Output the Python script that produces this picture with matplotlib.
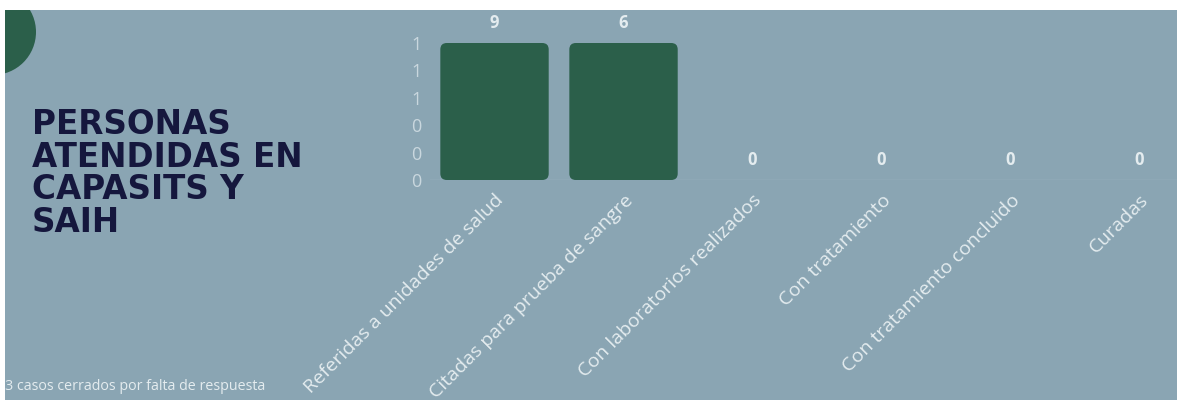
import numpy as np
import matplotlib
matplotlib.use("Agg")
from matplotlib import pyplot as plt
from matplotlib.patches import FancyBboxPatch, Rectangle, Circle

#%% Datos
categorias = ["Referidas a unidades de salud", "Citadas para prueba de sangre",
              "Con laboratorios realizados", "Con tratamiento",
              "Con tratamiento concluido", "Curadas"]
valores = [9, 6, 0, 0, 0, 0]
y_max = 1.0
y_ticks = [0, 0.2, 0.4, 0.6, 0.8, 1.0]
titulo = "PERSONAS\nATENDIDAS EN\nCAPASITS Y\nSAIH"
nota = "3 casos cerrados por falta de respuesta"

#%% Colores
fondo = "#8aa5b3"
verde = "#2b5f4a"
azul_oscuro = "#15173d"
claro = "#e4ecef"

plt.rcParams['font.family'] = ['Open Sans', 'DejaVu Sans']

fig = plt.figure(figsize=(11.77, 4.0), dpi=100, facecolor="white")

#%% Fondo (ejes en pixeles)
bg = fig.add_axes([0, 0, 1, 1], zorder=-1)
bg.set_xlim(0, 1177)
bg.set_ylim(400, 0)
bg.axis("off")
fondo_rect = Rectangle((5, 10), 1172, 390, facecolor=fondo, edgecolor="none")
bg.add_patch(fondo_rect)
circ = Circle((-7, 32), 43, facecolor=verde, edgecolor="none")
bg.add_patch(circ)
circ.set_clip_path(fondo_rect)

#%% Grafico
ax = fig.add_axes([430/1177, 220/400, 747/1177, 137/400])
ax.set_facecolor("none")
x = np.arange(len(categorias))
alturas = np.minimum(valores, y_max)
ancho = 0.84

for xi, h in zip(x, alturas):
    if h > 0:
        p = FancyBboxPatch((xi - ancho/2, 0), ancho, h,
                           boxstyle="round,pad=0,rounding_size=0.05",
                           mutation_aspect=0.94, facecolor=verde,
                           edgecolor="none", zorder=3)
        ax.add_patch(p)

for xi, h, v in zip(x, alturas, valores):
    ax.annotate(str(v), (xi, h), xytext=(0, 8), textcoords="offset points",
                ha="center", va="bottom", color=claro, fontsize=12,
                fontweight="bold")

ax.axhline(0, color="#a3b8c3", lw=1, zorder=2)
ax.set_xlim(-0.5, 5.29)
ax.set_ylim(0, y_max)
ax.set_yticks(y_ticks)
ax.set_yticklabels([f"{t:.0f}" for t in y_ticks], color="#c9d7de", fontsize=13)
ax.set_xticks(x)
ax.set_xticklabels(categorias, rotation=45, ha="right", rotation_mode="anchor",
                   color=claro, fontsize=14)
ax.tick_params(length=0, axis="y", pad=6)
ax.tick_params(length=0, axis="x", pad=8)
for s in ax.spines.values():
    s.set_visible(False)

#%% Textos
fig.text(32/1177, 1 - 108/400, titulo, ha="left", va="top", color=azul_oscuro,
         fontsize=23.5, fontweight="bold", family="DejaVu Sans", linespacing=0.99)
fig.text(5/1177, 1 - 387/400, nota, ha="left", va="center", color=claro,
         fontsize=10.3)

fig.savefig("out.png", dpi=100, facecolor=fig.get_facecolor())
